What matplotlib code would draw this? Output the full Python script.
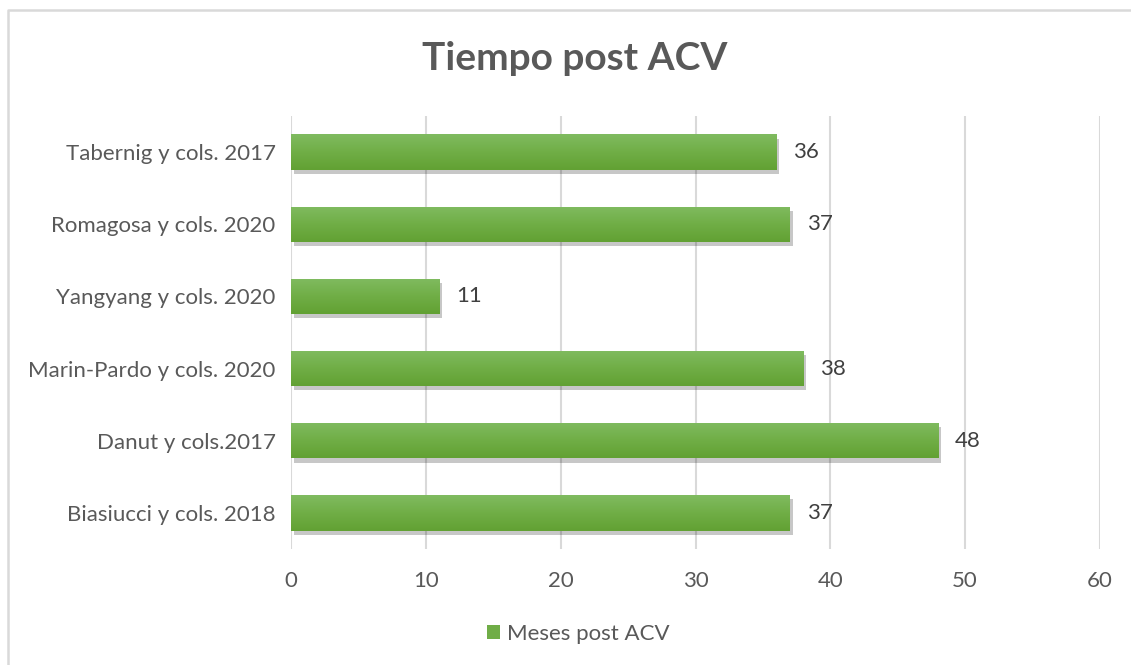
import matplotlib
matplotlib.use("Agg")
import matplotlib.pyplot as plt
import matplotlib.patheffects as pe
from matplotlib.colors import LinearSegmentedColormap
from matplotlib.lines import Line2D
from matplotlib.patches import Rectangle
import numpy as np

categories = ["Biasiucci y cols. 2018", "Danut y cols.2017", "Marin-Pardo y cols. 2020",
              "Yangyang y cols. 2020", "Romagosa y cols. 2020", "Tabernig y cols. 2017"]
values = [37, 48, 38, 11, 37, 36]
series_name = "Meses post ACV"
title = "Tiempo post ACV"
xticks = [0, 10, 20, 30, 40, 50, 60]

plt.rcParams['font.family'] = ['Lato', 'DejaVu Sans']

fig = plt.figure(figsize=(11.31, 6.65), dpi=100)
ax = fig.add_axes([291/1131, 1-549/665, (1100-291)/1131, (549-116)/665])

y = np.arange(len(categories))
bars = ax.barh(y, values, height=0.49, color="#70ad47", zorder=3,
               path_effects=[pe.SimplePatchShadow(offset=(2, -3), shadow_rgbFace="#000000", alpha=0.22),
                             pe.Normal()])

cmap = LinearSegmentedColormap.from_list("g", ["#80bb60", "#70ae46", "#62a133"])
grad = np.linspace(1, 0, 100).reshape(-1, 1)
for b in bars:
    x0, y0 = b.get_x(), b.get_y()
    w, h = b.get_width(), b.get_height()
    im = ax.imshow(grad, cmap=cmap, aspect="auto", extent=(x0, x0 + w, y0 + h, y0),
                   zorder=4, origin="upper")
    im.set_clip_path(b)

ax.set_xlim(0, 60)
ax.set_ylim(-0.5, len(categories) - 0.5)
ax.set_xticks(xticks)
ax.set_yticks(y)
ax.set_yticklabels(categories)
ax.xaxis.grid(True, color="#d9d9d9", linewidth=1.5, zorder=0)
ax.set_axisbelow(True)
for s in ax.spines.values():
    s.set_visible(False)
ax.tick_params(axis="both", length=0, labelsize=16, colors="#595959")
ax.tick_params(axis="y", pad=11)
ax.tick_params(axis="x", pad=16)

for b, v in zip(bars, values):
    ax.annotate(str(v), (v, b.get_y() + b.get_height() / 2), xytext=(12, 0),
                textcoords="offset points", va="center", ha="left",
                fontsize=16, color="#404040")

fig.text(575/1131, 1-58/665, title, ha="center", va="center", fontsize=28,
         fontweight="bold", color="#595959")

handle = Rectangle((0, 0), 1, 1, facecolor="#70ad47")
fig.legend([handle], [series_name], loc="center", bbox_to_anchor=(578/1131, 1-634/665),
           frameon=False, fontsize=16, labelcolor="#595959", handlelength=0.6,
           handleheight=0.6, handletextpad=0.3)

# chart border (top and left visible)
fig.add_artist(Line2D([7.5/1131, 7.5/1131, 1.0], [0.0, 1-9.5/665, 1-9.5/665],
                      transform=fig.transFigure, color="#d9d9d9", linewidth=1.8))

fig.savefig("out.png", dpi=100)
